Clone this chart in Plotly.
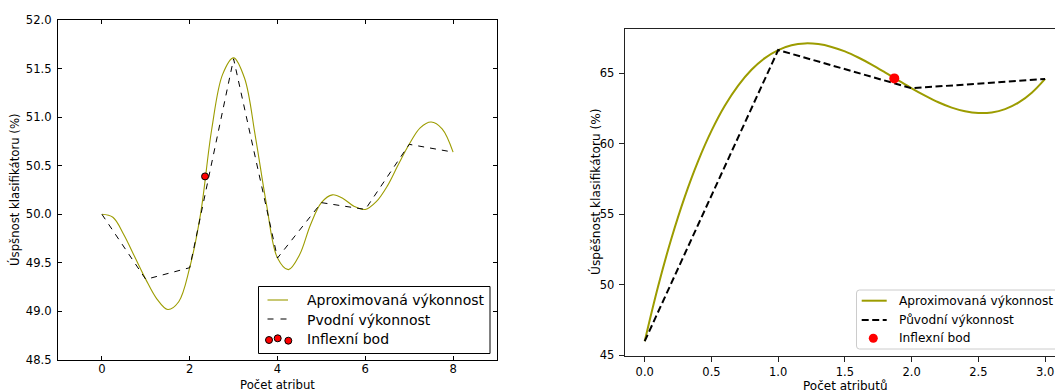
import plotly.graph_objects as go

W, H = 1055, 392
FONT = "DejaVu Sans"
OLIVE = "#9c9c00"

# ---- Left chart: classifier accuracy vs. number of attributes ----
left_x = [0, 1, 2, 3, 4, 5, 6, 7, 8]
left_orig = [50.00, 49.33, 49.45, 51.60, 49.55, 50.12, 50.05, 50.72, 50.64]

left_curve_x = [0.00, 0.25, 0.50, 0.75, 1.00, 1.25, 1.50, 1.75, 2.00, 2.25, 2.50,
                2.75, 3.00, 3.25, 3.50, 3.75, 4.00, 4.25, 4.50, 4.75, 5.00, 5.25,
                5.50, 5.75, 6.00, 6.25, 6.50, 6.75, 7.00, 7.25, 7.50, 7.75, 8.00]
left_curve_y = [50.00, 49.97, 49.79, 49.56, 49.33, 49.13, 49.02, 49.10, 49.45, 50.01, 50.87,
                51.44, 51.61, 51.40, 50.79, 50.10, 49.55, 49.43, 49.58, 49.89, 50.12, 50.20,
                50.16, 50.08, 50.05, 50.13, 50.29, 50.51, 50.72, 50.89, 50.95, 50.88, 50.64]

left_infl_x = [2.35]
left_infl_y = [50.39]

left_xticks = [0, 2, 4, 6, 8]
left_yticks = [48.5, 49.0, 49.5, 50.0, 50.5, 51.0, 51.5, 52.0]

# ---- Right chart ----
right_x = [0, 1, 2, 3]
right_orig = [46.00, 66.63, 63.92, 64.58]

right_curve_x = [0.0, 0.1, 0.2, 0.3, 0.4, 0.5, 0.6, 0.7, 0.8, 0.9, 1.0,
                 1.1, 1.2, 1.3, 1.4, 1.5, 1.6, 1.7, 1.8, 1.9, 2.0,
                 2.1, 2.2, 2.3, 2.4, 2.5, 2.6, 2.7, 2.8, 2.9, 3.0]
right_curve_y = [46.00, 49.87, 53.28, 56.23, 58.76, 60.90, 62.68, 64.11, 65.23, 66.06, 66.63,
                 66.97, 67.10, 67.05, 66.85, 66.53, 66.10, 65.60, 65.05, 64.48, 63.92,
                 63.40, 62.93, 62.55, 62.29, 62.17, 62.21, 62.44, 62.90, 63.61, 64.59]

right_infl_x = [1.87]
right_infl_y = [64.62]

right_xticks = [0.0, 0.5, 1.0, 1.5, 2.0, 2.5, 3.0]
right_yticks = [45, 50, 55, 60, 65]

LEFT_NAMES = ["Aproximovaná výkonnost", "Pvodní výkonnost", "Inflexní bod"]
RIGHT_NAMES = ["Aproximovaná výkonnost", "Původní výkonnost", "Inflexní bod"]


def fx(p):
    return p / W


def fy(p):
    return 1 - p / H


fig = go.Figure()

# left traces
fig.add_trace(go.Scatter(x=left_curve_x, y=left_curve_y, mode="lines", name=LEFT_NAMES[0],
                         line=dict(color=OLIVE, width=1.1, shape="spline", smoothing=1.0),
                         xaxis="x", yaxis="y", showlegend=False))
fig.add_trace(go.Scatter(x=left_x, y=left_orig, mode="lines", name=LEFT_NAMES[1],
                         line=dict(color="black", width=1, dash="6px,6px"),
                         xaxis="x", yaxis="y", showlegend=False))
fig.add_trace(go.Scatter(x=left_infl_x, y=left_infl_y, mode="markers", name=LEFT_NAMES[2],
                         marker=dict(color="red", size=7, line=dict(color="black", width=1)),
                         xaxis="x", yaxis="y", showlegend=False))

# right traces
fig.add_trace(go.Scatter(x=right_curve_x, y=right_curve_y, mode="lines", name=RIGHT_NAMES[0],
                         line=dict(color=OLIVE, width=2, shape="spline", smoothing=1.0),
                         xaxis="x2", yaxis="y2", showlegend=False))
fig.add_trace(go.Scatter(x=right_x, y=right_orig, mode="lines", name=RIGHT_NAMES[1],
                         line=dict(color="black", width=2, dash="7px,3.5px"),
                         xaxis="x2", yaxis="y2", showlegend=False))
fig.add_trace(go.Scatter(x=right_infl_x, y=right_infl_y, mode="markers", name=RIGHT_NAMES[2],
                         marker=dict(color="red", size=10, line=dict(width=0)),
                         xaxis="x2", yaxis="y2", showlegend=False))

left_axis = dict(showgrid=False, zeroline=False, showline=True, linecolor="black", linewidth=1,
                 mirror="ticks", ticks="inside", ticklen=4, tickwidth=1, tickcolor="black",
                 automargin=False,
                 tickfont=dict(family=FONT, size=11.6, color="black"))
right_axis = dict(showgrid=False, zeroline=False, showline=True, linecolor="#222222", linewidth=1,
                  ticks="outside", ticklen=5, tickwidth=1, tickcolor="#222222",
                  automargin=False,
                  tickfont=dict(family=FONT, size=11.5, color="black"))

fig.update_layout(
    template="none",
    width=W, height=H,
    margin=dict(l=0, r=0, t=0, b=0, pad=0),
    paper_bgcolor="white", plot_bgcolor="white",
    showlegend=False,
    xaxis=dict(domain=[fx(58), fx(497)], range=[-1, 9], tickvals=left_xticks,
               anchor="y", ticklabelstandoff=-2, **left_axis),
    yaxis=dict(domain=[fy(360), fy(20)], range=[48.5, 52.0], tickvals=left_yticks,
               tickformat=".1f", anchor="x", ticklabelstandoff=3, **left_axis),
    xaxis2=dict(domain=[fx(624.7), 1.0], range=[-0.15, 3.074], tickvals=right_xticks,
                tickformat=".1f", anchor="y2", mirror=True, ticklabelstandoff=0, **right_axis),
    yaxis2=dict(domain=[fy(355.7), fy(29)], range=[44.97, 68.12], tickvals=right_yticks,
                anchor="x2", ticklabelstandoff=2, **right_axis),
)

shapes = []
annotations = []


def text(px, py, s, size, anchor="center", angle=0):
    annotations.append(dict(x=fx(px), y=fy(py), xref="paper", yref="paper", text=s,
                            showarrow=False, xanchor=anchor, yanchor="middle",
                            textangle=angle, font=dict(family=FONT, size=size, color="black")))


def hline(x0, x1, y, color, width, dash="solid"):
    shapes.append(dict(type="line", xref="paper", yref="paper", x0=fx(x0), x1=fx(x1),
                       y0=fy(y), y1=fy(y), line=dict(color=color, width=width, dash=dash),
                       layer="above"))


def dot(cx, cy, r, fill, edge=None):
    shapes.append(dict(type="circle", xref="paper", yref="paper",
                       x0=fx(cx - r), x1=fx(cx + r), y0=fy(cy + r), y1=fy(cy - r),
                       fillcolor=fill, line=dict(color=edge or fill, width=1 if edge else 0),
                       layer="above"))


# axis titles
text(277.5, 385, "Počet atribut", 11.7)
text(15, 190, "Úspšnost klasifikátoru (%)", 11.7, angle=-90)
text(845, 385.5, "Počet atributů", 12)
text(595, 192, "Úspěšnost klasifikátoru (%)", 12.2, angle=-90)

# left legend box
shapes.append(dict(type="rect", xref="paper", yref="paper", x0=fx(258.5), x1=fx(490),
                   y0=fy(353.5), y1=fy(286.5), fillcolor="white",
                   line=dict(color="black", width=1), layer="above"))
hline(267.5, 288, 300, OLIVE, 1.1)
hline(267.5, 288, 319, "black", 1, "6px,7px")
dot(269.0, 340.0, 3.5, "red", "black")
dot(277.7, 338.3, 3.5, "red", "black")
dot(288.3, 340.7, 3.5, "red", "black")
text(305, 300, LEFT_NAMES[0], 14, "left")
text(305, 319.5, LEFT_NAMES[1], 14, "left")
text(305, 339, LEFT_NAMES[2], 14, "left")

# right legend box (rounded corners)
x0, x1, y0, y1, r = 856.5, 1070, 290, 349, 3
path = (f"M {fx(x0 + r)},{fy(y0)} L {fx(x1)},{fy(y0)} L {fx(x1)},{fy(y1)} "
        f"L {fx(x0 + r)},{fy(y1)} Q {fx(x0)},{fy(y1)} {fx(x0)},{fy(y1 - r)} "
        f"L {fx(x0)},{fy(y0 + r)} Q {fx(x0)},{fy(y0)} {fx(x0 + r)},{fy(y0)} Z")
shapes.append(dict(type="path", xref="paper", yref="paper", path=path,
                   fillcolor="rgba(255,255,255,0.85)", line=dict(color="#cccccc", width=1),
                   layer="above"))
hline(861.7, 886.7, 300.7, OLIVE, 2)
hline(861.7, 886.7, 320, "black", 2, "7px,3.5px")
dot(873.3, 338.3, 4.5, "red")
text(896.7, 300.7, RIGHT_NAMES[0], 12.2, "left")
text(896.7, 320, RIGHT_NAMES[1], 12.2, "left")
text(896.7, 338, RIGHT_NAMES[2], 12.2, "left")

fig.update_layout(shapes=shapes, annotations=annotations)
fig.write_html("out.html")
